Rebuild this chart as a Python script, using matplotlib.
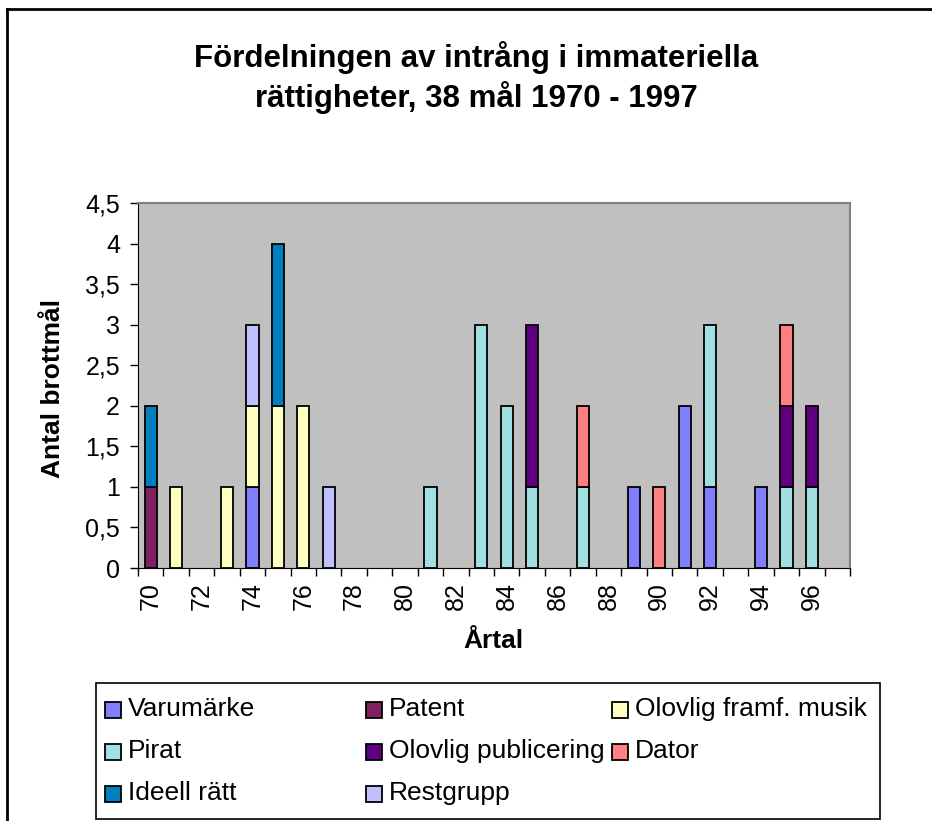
import matplotlib.pyplot as plt
from matplotlib.patches import Rectangle
from matplotlib.lines import Line2D
import numpy as np

plt.rcParams['font.family'] = ['Liberation Sans', 'DejaVu Sans']

# Data: number of cases per year (1970-1997)
years = list(range(70, 98))
series_names = ["Varumärke", "Patent", "Olovlig framf. musik", "Pirat",
                "Olovlig publicering", "Dator", "Ideell rätt", "Restgrupp"]
series_colors = ["#8080FF", "#802060", "#FFFFC0", "#A0E0E0",
                 "#600080", "#FF8080", "#0080C0", "#C0C0FF"]

#             70 71 72 73 74 75 76 77 78 79 80 81 82 83 84 85 86 87 88 89 90 91 92 93 94 95 96 97
varumarke  = [0, 0, 0, 0, 1, 0, 0, 0, 0, 0, 0, 0, 0, 0, 0, 0, 0, 0, 0, 1, 0, 2, 1, 0, 1, 0, 0, 0]
patent     = [1, 0, 0, 0, 0, 0, 0, 0, 0, 0, 0, 0, 0, 0, 0, 0, 0, 0, 0, 0, 0, 0, 0, 0, 0, 0, 0, 0]
musik      = [0, 1, 0, 1, 1, 2, 2, 0, 0, 0, 0, 0, 0, 0, 0, 0, 0, 0, 0, 0, 0, 0, 0, 0, 0, 0, 0, 0]
pirat      = [0, 0, 0, 0, 0, 0, 0, 0, 0, 0, 0, 1, 0, 3, 2, 1, 0, 1, 0, 0, 0, 0, 2, 0, 0, 1, 1, 0]
publicering = [0, 0, 0, 0, 0, 0, 0, 0, 0, 0, 0, 0, 0, 0, 0, 2, 0, 0, 0, 0, 0, 0, 0, 0, 0, 1, 1, 0]
dator      = [0, 0, 0, 0, 0, 0, 0, 0, 0, 0, 0, 0, 0, 0, 0, 0, 0, 1, 0, 0, 1, 0, 0, 0, 0, 1, 0, 0]
ideell     = [1, 0, 0, 0, 0, 2, 0, 0, 0, 0, 0, 0, 0, 0, 0, 0, 0, 0, 0, 0, 0, 0, 0, 0, 0, 0, 0, 0]
restgrupp  = [0, 0, 0, 0, 1, 0, 0, 1, 0, 0, 0, 0, 0, 0, 0, 0, 0, 0, 0, 0, 0, 0, 0, 0, 0, 0, 0, 0]
series_values = [varumarke, patent, musik, pirat, publicering, dator, ideell, restgrupp]

y_ticks = [0, 0.5, 1, 1.5, 2, 2.5, 3, 3.5, 4, 4.5]
y_tick_labels = ["0", "0,5", "1", "1,5", "2", "2,5", "3", "3,5", "4", "4,5"]

W, H = 932, 821
fig = plt.figure(figsize=(W / 100, H / 100), dpi=100)


def fx(px):
    return px / W


def fy(py):
    return 1 - py / H


# plot area in pixels: left 138, right 850, top 203, bottom 568
ax = fig.add_axes([fx(138), fy(568), fx(850 - 138), (568 - 203) / H])
ax.set_facecolor("#C0C0C0")

x = np.arange(len(years))
bottom = np.zeros(len(years))
for name, color, vals in zip(series_names, series_colors, series_values):
    vals = np.array(vals, dtype=float)
    nz = vals > 0  # skip empty segments so no stray edge lines appear
    ax.bar(x[nz], vals[nz], width=0.48, bottom=bottom[nz], color=color,
           edgecolor="black", linewidth=1.3, label=name)
    bottom += vals

ax.set_xlim(-0.5, len(years) - 0.5)
ax.set_ylim(0, 4.5)
ax.set_yticks(y_ticks)
ax.set_yticklabels(y_tick_labels, fontsize=18)
ax.tick_params(axis="y", length=6, width=1, pad=7)

# tick marks at category boundaries, labels at category centres (every second)
ax.set_xticks(np.arange(-0.5, len(years), 1.0))
ax.set_xticklabels([])
ax.tick_params(axis="x", which="major", length=6, width=1)
ax.set_xticks(x[::2], minor=True)
ax.set_xticklabels([str(y) for y in years[::2]], minor=True,
                   rotation=90, fontsize=18)
ax.tick_params(axis="x", which="minor", length=0, pad=10)

for s in ["left", "bottom"]:
    ax.spines[s].set_color("black")
for s in ["top", "right"]:
    ax.spines[s].set_color("#808080")
    ax.spines[s].set_linewidth(1.5)

# titles and axis labels
fig.text(fx(476), fy(57), "Fördelningen av intrång i immateriella",
         ha="center", va="center", fontsize=22.5, fontweight="bold")
fig.text(fx(476), fy(98), "rättigheter, 38 mål 1970 - 1997",
         ha="center", va="center", fontsize=22.5, fontweight="bold")
fig.text(fx(53), fy(388), "Antal brottmål", rotation=90,
         ha="center", va="center", fontsize=19, fontweight="bold")
fig.text(fx(493), fy(641), "Årtal",
         ha="center", va="center", fontsize=19, fontweight="bold")

# legend box (row-major, 3 columns)
fig.patches.append(Rectangle((fx(96), fy(819)), fx(880 - 96), (819 - 683) / H,
                             transform=fig.transFigure, fill=False,
                             edgecolor="black", linewidth=1.2))
col_x = [105, 366, 612]
row_y = [709, 751, 793]
for i, (name, color) in enumerate(zip(series_names, series_colors)):
    r, c = divmod(i, 3)
    mx, my = col_x[c], row_y[r]
    fig.patches.append(Rectangle((fx(mx), fy(my + 9)), 16 / W, 16 / H,
                                 transform=fig.transFigure, facecolor=color,
                                 edgecolor="black", linewidth=1.3))
    fig.text(fx(mx + 23), fy(my), name, ha="left", va="center", fontsize=19)

# outer chart frame
fig.lines.append(Line2D([fx(7), fx(7)], [fy(9), 0], transform=fig.transFigure,
                        color="black", linewidth=2))
fig.lines.append(Line2D([fx(7), 1], [fy(9), fy(9)], transform=fig.transFigure,
                        color="black", linewidth=2))

fig.savefig("out.png", dpi=100)
